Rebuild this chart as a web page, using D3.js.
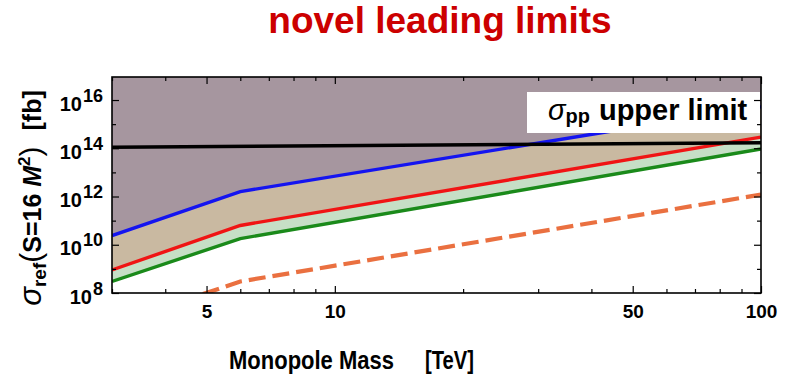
<!DOCTYPE html>
<html>
<head>
<meta charset="utf-8">
<script src="https://cdn.jsdelivr.net/npm/d3@7"></script>
<style>
  body { margin: 0; background: #fff; }
  text { font-family: "Liberation Sans", Arial, sans-serif; }
</style>
</head>
<body>
<div id="chart-area"></div>
<script>
// data (mass in TeV, cross sections in fb)
const masses = [3, 6, 100]
const blueLimit = [2.4e10, 1.6e12, 5.3e15]
const redLimit = [9e8, 6.3e10, 2.9e14]
const greenLimit = [3e8, 1.8e10, 9.3e13]
const dashedLimit = [4.8e6, 3e8, 1.2e12]
const ppMasses = [3, 100]
const ppUpperLimit = [1.1e14, 1.7e14]

const xTickValues = [5, 10, 50, 100]
const xMinorTicks = [3, 4, 6, 7, 8, 9, 20, 30, 40, 60, 70, 80, 90]
const yTickExponents = [8, 10, 12, 14, 16]
const yMinorExponents = [9, 11, 13, 15]

const MARGIN = { LEFT: 112, RIGHT: 27, TOP: 77, BOTTOM: 82 }
const WIDTH = 788 - MARGIN.LEFT - MARGIN.RIGHT
const HEIGHT = 375 - MARGIN.TOP - MARGIN.BOTTOM

const svg = d3.select("#chart-area").append("svg")
  .attr("width", 788)
  .attr("height", 375)

// title
svg.append("text")
  .attr("x", 440)
  .attr("y", 33)
  .attr("text-anchor", "middle")
  .attr("font-size", "37px")
  .attr("font-weight", "bold")
  .attr("fill", "#cc0000")
  .text("novel leading limits")

const g = svg.append("g")
  .attr("transform", `translate(${MARGIN.LEFT}, ${MARGIN.TOP})`)

const x = d3.scaleLog()
  .domain([3, 100])
  .range([0, WIDTH])

const y = d3.scaleLog()
  .domain([1e8, 9e16])
  .range([HEIGHT, 0])

g.append("clipPath").attr("id", "plot-clip")
  .append("rect")
  .attr("width", WIDTH)
  .attr("height", HEIGHT)

const plot = g.append("g").attr("clip-path", "url(#plot-clip)")

const rows = masses.map((m, i) => ({
  m: m, blue: blueLimit[i], red: redLimit[i], green: greenLimit[i], dashed: dashedLimit[i]
}))

// shaded regions
plot.append("path")
  .attr("d", d3.area().x(d => x(d.m)).y0(0).y1(d => y(d.blue))(rows))
  .attr("fill", "#a6969f")

plot.append("path")
  .attr("d", d3.area().x(d => x(d.m)).y0(d => y(d.blue)).y1(d => y(d.red))(rows))
  .attr("fill", "#c9b9a1")

plot.append("path")
  .attr("d", d3.area().x(d => x(d.m)).y0(d => y(d.red)).y1(d => y(d.green))(rows))
  .attr("fill", "#c6dfc6")

// limit lines
const line = key => d3.line().x(d => x(d.m)).y(d => y(d[key]))(rows)

plot.append("path").attr("d", line("green"))
  .attr("fill", "none").attr("stroke", "#1a8a1a").attr("stroke-width", 3.4)
plot.append("path").attr("d", line("red"))
  .attr("fill", "none").attr("stroke", "#f01414").attr("stroke-width", 3.4)
plot.append("path").attr("d", line("blue"))
  .attr("fill", "none").attr("stroke", "#1414f0").attr("stroke-width", 3.4)
plot.append("path").attr("d", line("dashed"))
  .attr("fill", "none").attr("stroke", "#ea7040").attr("stroke-width", 4.2)
  .attr("stroke-dasharray", "17,7")

// sigma_pp upper limit
const ppRows = ppMasses.map((m, i) => ({ m: m, v: ppUpperLimit[i] }))
plot.append("path")
  .attr("d", d3.line().x(d => x(d.m)).y(d => y(d.v))(ppRows))
  .attr("fill", "none").attr("stroke", "#000").attr("stroke-width", 3.6)

// label box
g.append("rect")
  .attr("x", 527 - MARGIN.LEFT)
  .attr("y", 92 - MARGIN.TOP)
  .attr("width", 233)
  .attr("height", 41)
  .attr("fill", "#fff")

const lbl = g.append("text")
  .attr("x", 548 - MARGIN.LEFT)
  .attr("y", 120 - MARGIN.TOP)
  .attr("font-size", "29px")
lbl.append("tspan").attr("font-style", "italic").text("σ")
lbl.append("tspan").attr("font-size", "20px").attr("font-weight", "bold").attr("dy", 3).text("pp")
lbl.append("tspan").attr("font-weight", "bold").attr("dy", -3).attr("dx", 9).text("upper limit")

// axes, ticks inside
const xAxisGroup = g.append("g").attr("transform", `translate(0, ${HEIGHT})`)
xAxisGroup.call(d3.axisBottom(x).tickValues(xTickValues).tickSize(-7).tickPadding(12)
  .tickFormat(d3.format("d")))
xAxisGroup.selectAll("text").attr("font-size", "19px").attr("font-weight", "bold").attr("fill", "#000")

g.append("g").attr("transform", `translate(0, ${HEIGHT})`)
  .call(d3.axisBottom(x).tickValues(xMinorTicks).tickSize(-4).tickFormat(""))
g.append("g")
  .call(d3.axisTop(x).tickValues(xTickValues).tickSize(-7).tickFormat(""))
g.append("g")
  .call(d3.axisTop(x).tickValues(xMinorTicks).tickSize(-4).tickFormat(""))

const yAxisGroup = g.append("g")
yAxisGroup.call(d3.axisLeft(y).tickValues(yTickExponents.map(e => Math.pow(10, e)))
  .tickSize(-7).tickPadding(9).tickFormat(() => ""))
yAxisGroup.selectAll(".tick text")
  .attr("font-size", "20px").attr("font-weight", "bold").attr("fill", "#000")
  .attr("dy", "0.5em")
  .each(function(d) {
    const t = d3.select(this)
    t.text("10")
    t.append("tspan").attr("font-size", "18px").attr("dx", 1).attr("dy", -9).text(Math.round(Math.log10(d)))
  })

g.append("g")
  .call(d3.axisLeft(y).tickValues(yMinorExponents.map(e => Math.pow(10, e))).tickSize(-4).tickFormat(""))
g.append("g").attr("transform", `translate(${WIDTH}, 0)`)
  .call(d3.axisRight(y).tickValues(yTickExponents.map(e => Math.pow(10, e))).tickSize(-7).tickFormat(""))
g.append("g").attr("transform", `translate(${WIDTH}, 0)`)
  .call(d3.axisRight(y).tickValues(yMinorExponents.map(e => Math.pow(10, e))).tickSize(-4).tickFormat(""))

g.selectAll(".domain").remove()
g.selectAll(".tick line").attr("stroke", "#000").attr("stroke-width", 1.2)

// frame
g.append("rect")
  .attr("width", WIDTH)
  .attr("height", HEIGHT)
  .attr("fill", "none")
  .attr("stroke", "#000")
  .attr("stroke-width", 1.6)

// X label
svg.append("text")
  .attr("x", 229)
  .attr("y", 369)
  .attr("font-size", "26px")
  .attr("font-weight", "bold")
  .attr("textLength", 165)
  .attr("lengthAdjust", "spacingAndGlyphs")
  .text("Monopole Mass")
svg.append("text")
  .attr("x", 425)
  .attr("y", 369)
  .attr("font-size", "26px")
  .attr("font-weight", "bold")
  .attr("textLength", 49)
  .attr("lengthAdjust", "spacingAndGlyphs")
  .text("[TeV]")

// Y label
const yLabel = svg.append("text")
  .attr("transform", "translate(41, 198) rotate(-90)")
  .attr("text-anchor", "middle")
  .attr("font-size", "25px")
  .attr("font-weight", "bold")
yLabel.append("tspan").attr("font-style", "italic").attr("font-weight", "normal")
  .attr("font-size", "31px").text("σ")
yLabel.append("tspan").attr("font-size", "19px").attr("dy", 5).text("ref")
yLabel.append("tspan").attr("font-size", "30px").attr("font-weight", "normal").attr("dy", -5).text("(")
yLabel.append("tspan").text("S=16 ")
yLabel.append("tspan").attr("font-style", "italic").text("M")
yLabel.append("tspan").attr("font-size", "17px").attr("dy", -11).text("2")
yLabel.append("tspan").attr("font-size", "30px").attr("font-weight", "normal").attr("dy", 11).text(")")
yLabel.append("tspan").attr("dx", 16).text("[fb]")
</script>
</body>
</html>
